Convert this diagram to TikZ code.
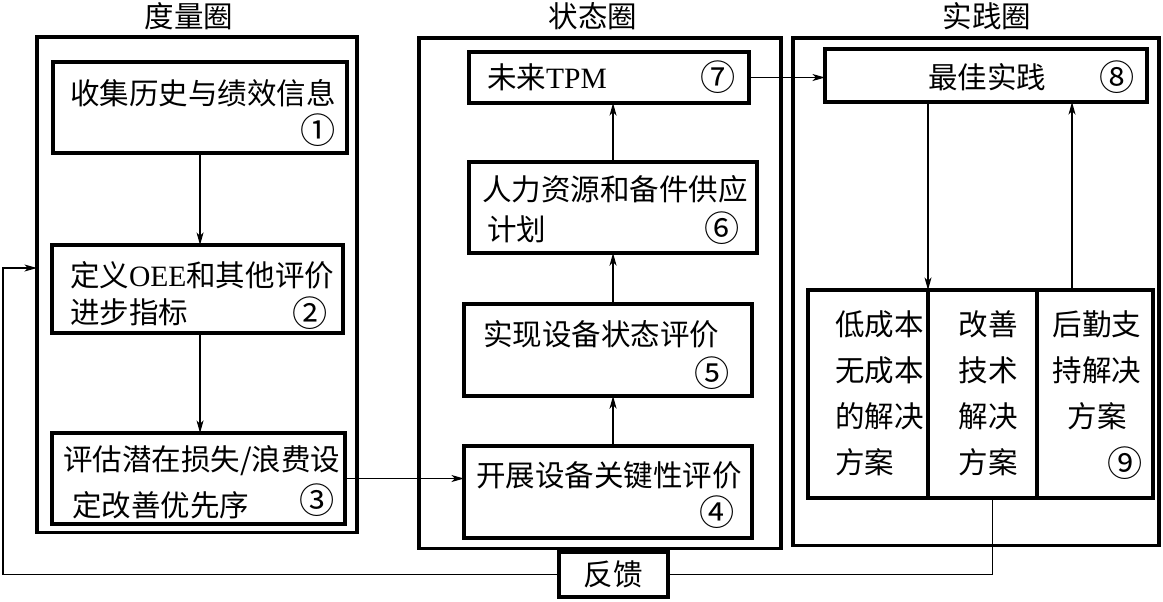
\documentclass[tikz,border=0pt]{standalone}
\usepackage{fontspec}
\setmainfont{Noto Sans CJK SC}
\newfontfamily\lat{Liberation Serif}
\usetikzlibrary{arrows.meta}

\tikzset{
  ring/.style={draw, line width=2.3pt, inner sep=0pt, outer sep=0pt, anchor=north west},
  box/.style={draw, line width=2.3pt, inner sep=0pt, outer sep=0pt, anchor=north west},
  txt/.style={inner sep=0pt, outer sep=0pt},
  num/.style={inner sep=0pt, outer sep=0pt, font=\fontsize{25}{30}\selectfont},
  line/.style={line width=0.8pt},
  arr/.style={line width=0.8pt, -{Stealth[length=9pt, width=5pt, inset=2.5pt]}}
}

\begin{document}
\begin{tikzpicture}[x=0.025cm, y=-0.025cm, font=\fontsize{21}{32.7}\selectfont]
\useasboundingbox (0,0) rectangle (1163,601);

% Measurement circle
\node [txt] (tA) at (189,16) {度量圈};
\node [ring, minimum width=8cm, minimum height=12.375cm] (rA) at (37,37) {};
\node [box, minimum width=7.35cm, minimum height=2.275cm] (b1) at (53,62) {};
\node [txt, anchor=west] (t1) at (70,93) {收集历史与绩效信息};
\node [num] (n1) at (318,130) {①};
\node [box, minimum width=7.275cm, minimum height=2.2cm] (b2) at (52,245) {};
\node [txt, anchor=north west, align=left] (t2) at (70,261) {定义{\lat OEE}和其他评价\\[-5.7pt]进步指标};
\node [num] (n2) at (310,313) {②};
\node [box, minimum width=7.325cm, minimum height=2.275cm] (b3) at (52,433) {};
\node [txt, anchor=north west, align=left] (t3) at (63,445) {评估潜在损失/浪费设\\\hspace*{0.225cm}定改善优先序};
\node [num] (n3) at (317,500) {③};

% Condition circle
\node [txt] (tB) at (593,16) {状态圈};
\node [ring, minimum width=9.05cm, minimum height=12.75cm] (rB) at (419,38) {};
\node [box, minimum width=7cm, minimum height=1.275cm] (b7) at (469,52) {};
\node [txt, anchor=west] (t7) at (487,77) {未来{\lat TPM}};
\node [num] (n7) at (718,77) {⑦};
\node [box, minimum width=7.2cm, minimum height=2.275cm] (b6) at (469,162) {};
\node [txt, anchor=north west, align=left] (t6) at (482,175) {人力资源和备件供应\\[-4.2pt]\hspace*{0.125cm}计划};
\node [num] (n6) at (722,228) {⑥};
\node [box, minimum width=7.2cm, minimum height=2.3cm] (b5) at (464,304) {};
\node [txt, anchor=west] (t5) at (483,334) {实现设备状态评价};
\node [num] (n5) at (712,373) {⑤};
\node [box, minimum width=7.2cm, minimum height=2.3cm] (b4) at (464,446) {};
\node [txt, anchor=west] (t4) at (476,475) {开展设备关键性评价};
\node [num] (n4) at (717,512) {④};

% Practice circle
\node [txt] (tC) at (987,16) {实践圈};
\node [ring, minimum width=9.15cm, minimum height=12.675cm] (rC) at (793,38) {};
\node [box, minimum width=8.05cm, minimum height=1.325cm] (b8) at (825,49) {};
\node [txt, anchor=west] (t8) at (928,77) {最佳实践};
\node [num] (n8) at (1117,77) {⑧};
\node [box, minimum width=3cm, minimum height=5.2cm] (lc1) at (808,290) {};
\node [box, minimum width=2.725cm, minimum height=5.2cm] (lc2) at (928,290) {};
\node [box, minimum width=2.9cm, minimum height=5.2cm] (lc3) at (1037,290) {};
\node [txt, anchor=north west, align=left] (t9a) at (835,311) {低成本\\无成本\\的解决\\方案};
\node [txt, anchor=north, align=center] (t9b) at (988,311) {改善\\技术\\解决\\方案};
\node [txt, anchor=north, align=center] (t9c) at (1097,311) {后勤支\\持解决\\方案};
\node [num] (n9) at (1125,463) {⑨};

% Feedback
\node [box, minimum width=2.725cm, minimum height=1.125cm] (fbk) at (559,552) {反馈};

% Connectors
\draw [arr] (b1.south) -- (b1.south |- b2.north);
\draw [arr] (b1.south |- b2.south) -- (b1.south |- b3.north);
\draw [arr] (b3.east) -- (b3.east -| b4.west);
\draw [arr] (b6.south |- b4.north) -- (b6.south |- b5.south);
\draw [arr] (b6.south |- b5.north) -- (b6.south);
\draw [arr] (b6.north) -- (b6.north |- b7.south);
\draw [arr] (b7.east) -- (b7.east -| b8.west);
\draw [arr] (lc2.north west |- b8.south) -- (lc2.north west);
\coordinate (up) at ([xshift=-0.575cm]lc3.north);
\draw [arr] (up) -- (up |- b8.south);
\coordinate (fbs) at ([xshift=0.25cm]lc2.south);
\draw [line] (fbs) |- (fbk.east);
\coordinate (fbc) at (3,268);
\draw [arr] (fbk.west) -| (fbc) -- (fbc -| rA.west);
\end{tikzpicture}
\end{document}
